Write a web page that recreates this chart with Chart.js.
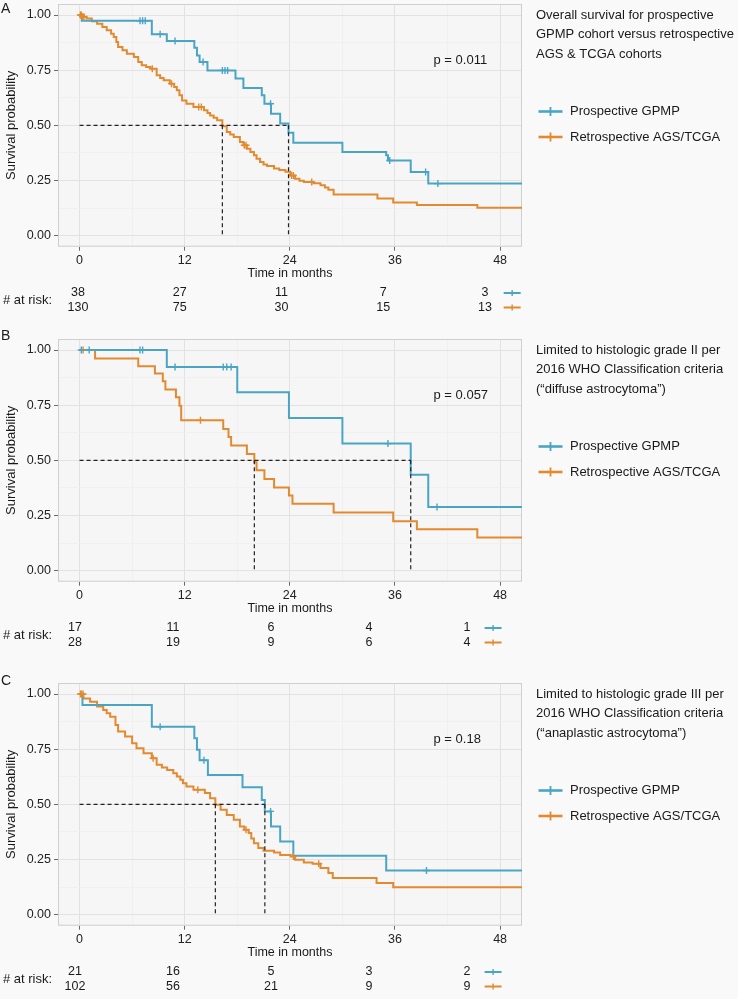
<!DOCTYPE html>
<html><head><meta charset="utf-8">
<script src="https://cdn.jsdelivr.net/npm/chart.js@4.4.1/dist/chart.umd.min.js"></script>
<style>
html,body{margin:0;padding:0;background:#F9F9F9;width:738px;height:999px;overflow:hidden;position:relative;}
canvas{position:absolute;left:0;}
</style></head><body>
<canvas id="cA" width="738" height="330" style="top:-10px"></canvas>
<canvas id="cB" width="738" height="330" style="top:325px"></canvas>
<canvas id="cC" width="738" height="330" style="top:669px"></canvas>
<script>
// ---------------- DATA ----------------
const monthTicks = [0, 12, 24, 36, 48];
const probTicks = [0, 0.25, 0.5, 0.75, 1];
const groupNames = ['Prospective GPMP', 'Retrospective AGS/TCGA'];

// Panel A
const A_gpmpTime = [0, 0.25, 8.25, 9.96, 13.1, 13.4, 13.7, 14.6, 17.8, 18.7, 20.8, 21.1, 21.85, 22.9, 23.85, 24.4, 30.0, 35.0, 35.2, 37.8, 39.8, 50.5];
const A_gpmpSurv = [1, 0.974, 0.913, 0.882, 0.852, 0.817, 0.787, 0.749, 0.712, 0.669, 0.636, 0.598, 0.553, 0.508, 0.466, 0.421, 0.379, 0.364, 0.341, 0.288, 0.236, 0.236];
const A_gpmpCensor = [6.9, 7.2, 7.5, 9.2, 10.9, 14.1, 16.3, 16.6, 16.9, 21.8, 35.4, 39.5, 40.9];
const A_agsTime = [0, 0.3, 0.8, 1.4, 2.0, 2.6, 3.1, 3.6, 3.9, 4.2, 4.4, 4.9, 5.4, 6.2, 6.7, 7.1, 7.6, 8.1, 8.8, 9.2, 9.6, 10.3, 10.8, 11.1, 11.4, 11.7, 12.2, 13.0, 14.2, 14.6, 14.9, 15.3, 15.7, 16.3, 16.8, 17.2, 17.6, 18.3, 18.7, 19.1, 19.5, 19.9, 20.2, 20.6, 21.0, 21.4, 22.2, 22.8, 23.5, 24.06, 24.6, 25.1, 25.6, 26.7, 27.5, 28.0, 28.4, 29.0, 34.0, 35.8, 38.5, 45.4, 50.5];
const A_agsSurv = [1, 0.992, 0.984, 0.972, 0.961, 0.946, 0.931, 0.915, 0.900, 0.878, 0.855, 0.840, 0.825, 0.810, 0.787, 0.772, 0.765, 0.757, 0.727, 0.715, 0.704, 0.689, 0.674, 0.659, 0.636, 0.613, 0.598, 0.583, 0.568, 0.556, 0.545, 0.534, 0.523, 0.496, 0.470, 0.458, 0.447, 0.425, 0.410, 0.394, 0.379, 0.364, 0.349, 0.334, 0.322, 0.316, 0.304, 0.298, 0.290, 0.273, 0.258, 0.249, 0.243, 0.238, 0.228, 0.218, 0.208, 0.187, 0.168, 0.150, 0.139, 0.127, 0.127];
const A_agsCensor = [0.1, 0.2, 0.35, 0.5, 8.3, 10.5, 13.6, 13.9, 18.8, 19.0, 24.2, 24.4, 26.5];
const A_medians = [23.85, 16.3];
const A_riskGpmp = [38, 27, 11, 7, 3];
const A_riskAgs = [130, 75, 30, 15, 13];
const A_pValue = 'p = 0.011';
const A_title = ['Overall survival for prospective', 'GPMP cohort versus retrospective', 'AGS & TCGA cohorts'];

// Panel B
const B_gpmpTime = [0, 9.96, 18.0, 23.9, 30.0, 37.8, 39.8, 50.5];
const B_gpmpSurv = [1, 0.923, 0.809, 0.692, 0.576, 0.435, 0.288, 0.288];
const B_gpmpCensor = [0.2, 1.1, 6.9, 7.2, 10.9, 16.4, 16.8, 17.3, 35.2, 40.8];
const B_agsTime = [0, 1.77, 6.7, 8.6, 9.5, 9.8, 11.0, 11.4, 11.6, 16.4, 17.0, 17.3, 19.1, 19.95, 20.2, 21.1, 22.2, 23.9, 24.3, 29.0, 35.8, 38.5, 45.4, 50.5];
const B_agsSurv = [1, 0.962, 0.927, 0.894, 0.859, 0.821, 0.786, 0.748, 0.682, 0.642, 0.606, 0.567, 0.529, 0.491, 0.455, 0.415, 0.377, 0.341, 0.303, 0.264, 0.224, 0.188, 0.150, 0.150];
const B_agsCensor = [0.4, 13.8];
const B_medians = [37.8, 19.95];
const B_riskGpmp = [17, 11, 6, 4, 1];
const B_riskAgs = [28, 19, 9, 6, 4];
const B_pValue = 'p = 0.057';
const B_title = ['Limited to histologic grade II per', '2016 WHO Classification criteria', '(\u201Cdiffuse astrocytoma\u201D)'];

// Panel C
const C_gpmpTime = [0, 0.33, 8.25, 13.1, 13.4, 13.7, 14.65, 18.6, 20.8, 21.15, 21.85, 22.9, 24.4, 35.0, 50.5];
const C_gpmpSurv = [1, 0.95, 0.852, 0.800, 0.747, 0.700, 0.633, 0.578, 0.520, 0.468, 0.400, 0.332, 0.267, 0.200, 0.200];
const C_gpmpCensor = [9.2, 14.2, 21.8, 39.6];
const C_agsTime = [0, 0.44, 1.2, 2.0, 2.7, 3.1, 3.5, 4.1, 4.4, 5.2, 6.0, 6.5, 7.3, 8.25, 8.8, 9.4, 10.0, 10.7, 11.1, 11.5, 11.8, 12.2, 13.0, 14.3, 14.9, 15.5, 16.1, 16.8, 17.6, 18.3, 18.8, 19.3, 19.6, 19.9, 20.4, 21.0, 22.2, 22.9, 24.1, 24.6, 25.6, 26.6, 27.5, 28.4, 28.9, 33.9, 35.8, 50.5];
const C_agsSurv = [1, 0.980, 0.965, 0.943, 0.928, 0.913, 0.897, 0.860, 0.830, 0.807, 0.777, 0.754, 0.732, 0.709, 0.679, 0.667, 0.656, 0.641, 0.626, 0.611, 0.596, 0.581, 0.566, 0.551, 0.528, 0.498, 0.475, 0.452, 0.430, 0.400, 0.385, 0.370, 0.345, 0.324, 0.302, 0.290, 0.282, 0.270, 0.264, 0.249, 0.237, 0.231, 0.211, 0.189, 0.166, 0.143, 0.124, 0.124];
const C_agsCensor = [0.1, 0.25, 0.4, 8.4, 13.5, 19.0, 24.4, 27.3];
const C_medians = [21.15, 15.5];
const C_riskGpmp = [21, 16, 5, 3, 2];
const C_riskAgs = [102, 56, 21, 9, 9];
const C_pValue = 'p = 0.18';
const C_title = ['Limited to histologic grade III per', '2016 WHO Classification criteria', '(\u201Canaplastic astrocytoma\u201D)'];

// ---------------- STYLE ----------------
const BLUE = '#4AA5C4';
const ORANGE = '#E3892F';
const FONT = "'Liberation Sans', Arial, Helvetica, sans-serif";
const T = 14; // chart area top inside canvas

function survAt(times, surv, t) {
  let s = surv[0];
  for (let i = 0; i < times.length; i++) if (times[i] <= t) s = surv[i];
  return s;
}
function pts(times, surv) { return times.map((t, i) => ({x: t, y: surv[i]})); }
function censorPts(times, surv, cens) { return cens.map(t => ({x: t, y: survAt(times, surv, t)})); }

function drawIcon(ctx, cx, cy, w, h, color, lw) {
  ctx.save();
  ctx.strokeStyle = color; ctx.lineWidth = lw;
  ctx.beginPath(); ctx.moveTo(cx - w / 2, cy); ctx.lineTo(cx + w / 2, cy); ctx.stroke();
  ctx.lineWidth = Math.max(1.2, lw * 0.7);
  ctx.beginPath(); ctx.moveTo(cx, cy - h / 2); ctx.lineTo(cx, cy + h / 2); ctx.stroke();
  ctx.restore();
}

function makePanel(id, p) {
  const mMax = Math.max(p.medians[0], p.medians[1]);
  const dash = {borderColor: '#222222', borderWidth: 1.2, borderDash: [4, 3], pointRadius: 0, order: 0, fill: false};
  const plugin = {
    id: 'panel' + id,
    beforeDraw(chart) {
      const {ctx, chartArea: a} = chart;
      ctx.save();
      ctx.fillStyle = '#F9F9F9'; ctx.fillRect(0, 0, chart.width, chart.height);
      ctx.fillStyle = '#F6F6F6'; ctx.fillRect(a.left, a.top, a.right - a.left, a.bottom - a.top);
      ctx.restore();
    },
    beforeDatasetsDraw(chart) {
      const {ctx, chartArea: a} = chart;
      ctx.save(); ctx.strokeStyle = '#CFCFCF'; ctx.lineWidth = 1;
      ctx.strokeRect(a.left + 0.5, a.top + 0.5, a.right - a.left - 1, a.bottom - a.top - 1);
      ctx.restore();
    },
    afterDraw(chart) {
      const {ctx, chartArea: a} = chart;
      const xr = chart.scales.xr, x = chart.scales.x, y = chart.scales.y;
      ctx.save();
      ctx.fillStyle = '#1a1a1a';
      // panel letter
      ctx.font = '14px ' + FONT; ctx.textAlign = 'left'; ctx.textBaseline = 'middle';
      ctx.fillText(p.letter, 1, T + p.letterDy);
      // x-axis title
      ctx.font = '12.5px ' + FONT; ctx.textAlign = 'center';
      ctx.fillText('Time in months', (a.left + a.right) / 2, T + 269.5);
      // p value
      ctx.font = '13px ' + FONT; ctx.textAlign = 'left';
      ctx.fillText(p.pValue, x.getPixelForValue(40.4), y.getPixelForValue(0.795));
      // title block
      ctx.font = '13px ' + FONT;
      p.title.forEach((line, i) => ctx.fillText(line, 536, T + 11 + i * 19.5));
      // legend
      const legY = [T + 107.5, T + 133];
      const cols = [BLUE, ORANGE];
      groupNames.forEach((n, i) => {
        drawIcon(ctx, 550.5, legY[i], 24, 9, cols[i], 2.6);
        ctx.fillStyle = '#1a1a1a';
        ctx.fillText(n, 570, legY[i]);
      });
      // risk table
      ctx.font = '13px ' + FONT; ctx.textAlign = 'left';
      ctx.fillText('# at risk:', 3, T + 296);
      ctx.font = '12.5px ' + FONT; ctx.textAlign = 'center';
      const rows = [p.riskGpmp, p.riskAgs];
      const rowY = [T + 289, T + 303.5];
      rows.forEach((r, ri) => {
        r.forEach((v, i) => ctx.fillText(String(v), xr.getPixelForValue(monthTicks[i]), rowY[ri]));
        drawIcon(ctx, xr.getPixelForValue(51.2), rowY[ri], 17, 6, cols[ri], 2);
        ctx.fillStyle = '#1a1a1a';
      });
      ctx.restore();
    }
  };
  return new Chart(document.getElementById(id), {
    type: 'line',
    data: {
      datasets: [
        {data: [{x: 0, y: 0.5}, {x: mMax, y: 0.5}], ...dash},
        {data: [{x: p.medians[0], y: 0.5}, {x: p.medians[0], y: 0}], ...dash},
        {data: [{x: p.medians[1], y: 0.5}, {x: p.medians[1], y: 0}], ...dash},
        {data: censorPts(p.gT, p.gS, p.gC), showLine: false, pointStyle: 'cross', pointRadius: 3.5, pointBorderWidth: 1.4, pointBorderColor: BLUE, borderColor: BLUE, order: 1},
        {data: censorPts(p.aT, p.aS, p.aC), showLine: false, pointStyle: 'cross', pointRadius: 3.5, pointBorderWidth: 1.4, pointBorderColor: ORANGE, borderColor: ORANGE, order: 1},
        {data: pts(p.gT, p.gS), stepped: true, borderColor: BLUE, borderWidth: 2, pointRadius: 0, order: 2, fill: false},
        {data: pts(p.aT, p.aS), stepped: true, borderColor: ORANGE, borderWidth: 2, pointRadius: 0, order: 3, fill: false}
      ]
    },
    options: {
      responsive: false, animation: false, devicePixelRatio: 1,
      layout: {padding: {top: T, right: 216, left: 0, bottom: 330 - (T + 242.7) - 24}},
      plugins: {legend: {display: false}, tooltip: {enabled: false}},
      scales: {
        x: {
          type: 'linear', min: -2.46, max: 50.5,
          afterBuildTicks: s => { s.ticks = [0, 6, 12, 18, 24, 30, 36, 42, 48].map(v => ({value: v})); },
          afterFit: s => { s.height = 24; },
          border: {display: false},
          grid: {
            color: c => (monthTicks.includes(c.tick.value) ? '#E2E2E2' : '#EEEEEE'),
            lineWidth: c => (monthTicks.includes(c.tick.value) ? 1 : 0.7),
            drawTicks: true, tickLength: 4,
            tickColor: c => (monthTicks.includes(c.tick.value) ? '#6a6a6a' : 'rgba(0,0,0,0)')
          },
          ticks: {
            autoSkip: false, maxRotation: 0, padding: 2, color: '#222222',
            font: {family: FONT, size: 12.5},
            callback: v => (monthTicks.includes(v) ? String(v) : '')
          }
        },
        xr: {type: 'linear', axis: 'x', position: 'bottom', display: false, min: p.xrMin, max: p.xrMax},
        y: {
          type: 'linear', min: -0.05, max: 1.05,
          afterBuildTicks: s => { s.ticks = [0, 0.125, 0.25, 0.375, 0.5, 0.625, 0.75, 0.875, 1].map(v => ({value: v})); },
          afterFit: s => { s.width = 58; },
          border: {display: false},
          title: {display: true, text: 'Survival probability', color: '#1a1a1a', font: {family: FONT, size: 13}, padding: {top: 4, bottom: 0}},
          grid: {
            color: c => (probTicks.includes(c.tick.value) ? '#E2E2E2' : '#EEEEEE'),
            lineWidth: c => (probTicks.includes(c.tick.value) ? 1 : 0.7),
            drawTicks: true, tickLength: 4,
            tickColor: c => (probTicks.includes(c.tick.value) ? '#6a6a6a' : 'rgba(0,0,0,0)')
          },
          ticks: {
            autoSkip: false, padding: 3, color: '#222222',
            font: {family: FONT, size: 12.5},
            callback: v => (probTicks.includes(v) ? v.toFixed(2) : '')
          }
        }
      }
    },
    plugins: [plugin]
  });
}

makePanel('cA', {letter: 'A', letterDy: 5, gT: A_gpmpTime, gS: A_gpmpSurv, gC: A_gpmpCensor, aT: A_agsTime, aS: A_agsSurv, aC: A_agsCensor,
  medians: A_medians, riskGpmp: A_riskGpmp, riskAgs: A_riskAgs, pValue: A_pValue, title: A_title, xrMin: -2.36, xrMax: 52.36});
makePanel('cB', {letter: 'B', letterDy: -3, gT: B_gpmpTime, gS: B_gpmpSurv, gC: B_gpmpCensor, aT: B_agsTime, aS: B_agsSurv, aC: B_agsCensor,
  medians: B_medians, riskGpmp: B_riskGpmp, riskAgs: B_riskAgs, pValue: B_pValue, title: B_title, xrMin: -2.08, xrMax: 54.74});
makePanel('cC', {letter: 'C', letterDy: -1.5, gT: C_gpmpTime, gS: C_gpmpSurv, gC: C_gpmpCensor, aT: C_agsTime, aS: C_agsSurv, aC: C_agsCensor,
  medians: C_medians, riskGpmp: C_riskGpmp, riskAgs: C_riskAgs, pValue: C_pValue, title: C_title, xrMin: -2.08, xrMax: 54.74});
</script>
</body></html>
